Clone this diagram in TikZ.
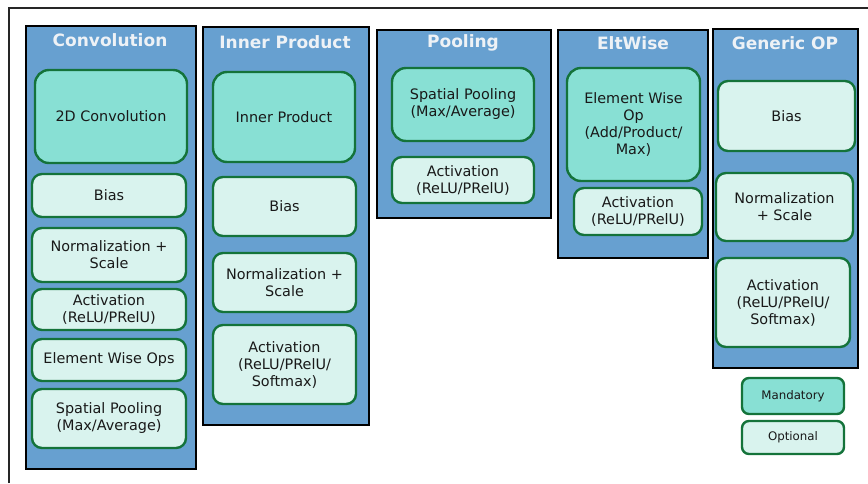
\documentclass[tikz,border=0pt]{standalone}
\usepackage{fontspec}
\setmainfont{DejaVu Sans}
\usetikzlibrary{positioning}
\definecolor{panelblue}{RGB}{103,160,208}
\definecolor{mandfill}{RGB}{136,224,212}
\definecolor{optfill}{RGB}{217,243,238}
\definecolor{boxgreen}{RGB}{20,115,58}
\definecolor{titlegray}{RGB}{238,242,246}
\begin{document}
\begin{tikzpicture}[x=1pt, y=-1pt,
  panel/.style={draw=black, fill=panelblue, line width=2.3pt, anchor=north west, inner sep=0pt},
  paneltitle/.style={text=titlegray, font=\fontsize{17}{20}\selectfont\bfseries},
  opbox/.style={draw=boxgreen, line width=2.4pt, align=center, inner sep=0pt, text=black!90, font=\fontsize{14.4}{17}\selectfont},
  mand/.style={opbox, fill=mandfill, rounded corners=14pt},
  opt/.style={opbox, fill=optfill, rounded corners=10pt},
  legendbox/.style={font=\fontsize{11.8}{14}\selectfont, rounded corners=7pt}]
\useasboundingbox (0,0) rectangle (868,483);
\draw[line width=2.2pt, black!85] (9,483) -- (9,8) -- (868,8);
% Convolution
\node[panel, minimum width=170pt, minimum height=443pt] (conv) at (25,25) {};
\node[paneltitle] (convtitle) at (110,40) {Convolution};
\node[mand, minimum width=152pt, minimum height=93pt] (conv2d) at (111,116.5) {2D Convolution};
\node[opt, minimum width=154pt, minimum height=43pt] (convbias) at (109,195.5) {Bias};
\node[opt, minimum width=154pt, minimum height=54pt] (convnorm) at (109,255) {Normalization +\\Scale};
\node[opt, minimum width=154pt, minimum height=41pt] (convact) at (109,309.5) {Activation\\(ReLU/PRelU)};
\node[opt, minimum width=154pt, minimum height=42pt] (convelt) at (109,360) {Element Wise Ops};
\node[opt, minimum width=154pt, minimum height=59pt] (convpool) at (109,418.5) {Spatial Pooling\\(Max/Average)};
% Inner Product
\node[panel, minimum width=166pt, minimum height=398pt] (ip) at (202,26) {};
\node[paneltitle] (iptitle) at (285,42) {Inner Product};
\node[mand, minimum width=142pt, minimum height=90pt] (ipmain) at (284,117) {Inner Product};
\node[opt, minimum width=143pt, minimum height=59pt] (ipbias) at (284.5,206.5) {Bias};
\node[opt, minimum width=143pt, minimum height=59pt] (ipnorm) at (284.5,282.5) {Normalization +\\Scale};
\node[opt, minimum width=143pt, minimum height=79pt] (ipact) at (284.5,364.5) {Activation\\(ReLU/PRelU/\\Softmax)};
% Pooling
\node[panel, minimum width=174pt, minimum height=188pt] (pool) at (376,29) {};
\node[paneltitle] (pooltitle) at (463,43) {Pooling};
\node[mand, minimum width=142pt, minimum height=73pt] (poolmain) at (463,104.5) {Spatial Pooling\\(Max/Average)};
\node[opt, minimum width=142pt, minimum height=46pt] (poolact) at (463,180) {Activation\\(ReLU/PRelU)};
% EltWise
\node[panel, minimum width=150pt, minimum height=228pt] (elt) at (557,29) {};
\node[paneltitle] (elttitle) at (633,43) {EltWise};
\node[mand, minimum width=133pt, minimum height=113pt] (eltmain) at (633.5,124.5) {Element Wise\\Op\\(Add/Product/\\Max)};
\node[opt, minimum width=128pt, minimum height=47pt] (eltact) at (638,211.5) {Activation\\(ReLU/PRelU)};
% Generic OP
\node[panel, minimum width=145pt, minimum height=339pt] (gen) at (712,28) {};
\node[paneltitle] (gentitle) at (785,43) {Generic OP};
\node[opt, minimum width=137pt, minimum height=70pt] (genbias) at (786.5,116) {Bias};
\node[opt, minimum width=137pt, minimum height=68pt] (gennorm) at (784.5,207) {Normalization\\+ Scale};
\node[opt, minimum width=134pt, minimum height=89pt] (genact) at (783,302.5) {Activation\\(ReLU/PRelU/\\Softmax)};
% legend
\node[mand, legendbox, minimum width=102pt, minimum height=36pt] (legmand) at (793,396) {Mandatory};
\node[opt, legendbox, minimum width=102pt, minimum height=33pt] (legopt) at (793,437.5) {Optional};
\end{tikzpicture}
\end{document}
